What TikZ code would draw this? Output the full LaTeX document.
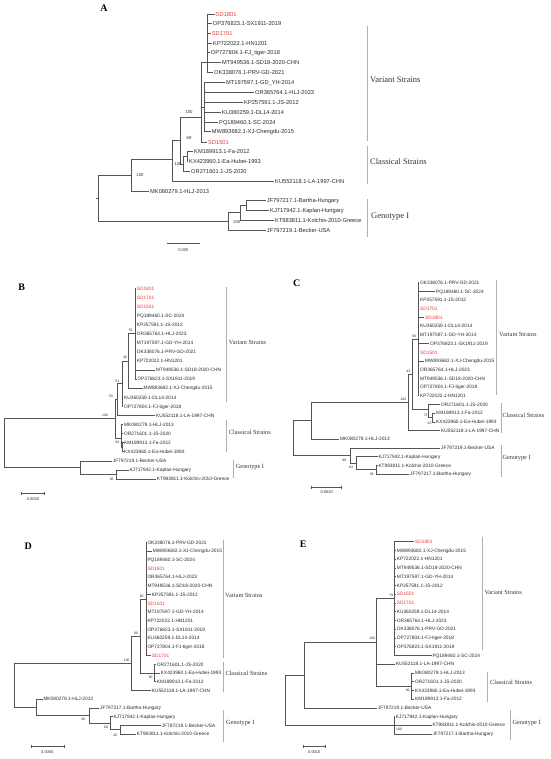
\documentclass[tikz,border=0pt]{standalone}
\usepackage{fontspec}
\setmainfont{Liberation Serif}
\setsansfont{Liberation Sans}
\definecolor{treegray}{HTML}{555555}
\definecolor{leafgray}{HTML}{2B2B2B}
\definecolor{sdred}{HTML}{EE3B3B}
\definecolor{bargray}{HTML}{B0B0B0}
\definecolor{labgray}{HTML}{333333}
\tikzset{
 treeA/.style={draw=treegray, line width=0.55pt},
 tree/.style={draw=treegray, line width=0.45pt},
 lfA/.style={anchor=west, inner ysep=0pt, inner xsep=0.8pt, xshift=-0.8pt, text height=4.1pt, text depth=0pt, font=\sffamily\fontsize{5.7}{6}\selectfont, text=leafgray},
 lfAr/.style={lfA, text=sdred},
 lf/.style={anchor=west, inner ysep=0pt, inner xsep=0.8pt, xshift=-0.8pt, text height=3.45pt, text depth=0pt, font=\sffamily\fontsize{4.8}{5}\selectfont, text=leafgray},
 lfr/.style={lf, text=sdred},
 bsA/.style={inner sep=0pt, font=\sffamily\fontsize{4.2}{4.5}\selectfont, text=leafgray},
 bs/.style={inner sep=0pt, font=\sffamily\fontsize{3.4}{3.6}\selectfont, text=leafgray},
 cbar/.style={draw=bargray, line width=0.7pt},
 clabA/.style={anchor=west, inner sep=0pt, font=\fontsize{8.5}{9}\selectfont, text=labgray},
 clab/.style={anchor=west, inner sep=0pt, font=\fontsize{6.3}{7}\selectfont, text=labgray},
 plab/.style={inner sep=0pt, font=\bfseries\fontsize{10}{11}\selectfont},
 sclab/.style={inner sep=0pt, font=\sffamily\fontsize{4}{4.5}\selectfont, text=leafgray},
 sbar/.style={draw=treegray, line width=0.45pt},
}
\begin{document}
\begin{tikzpicture}[x=1pt,y=-1pt]
\fill[white] (0,0) rectangle (550,759);
\useasboundingbox (0,0) rectangle (550,759);

%% ================= PANEL A =================
\node[plab] (pA) at (104,8.5) {A};
\node[lfAr] (a1) at (215.7,14) {SD1801};
\node[lfA] (a2) at (212.7,23.3) {OP376823.1-SX1911-2019};
\node[lfAr] (a3) at (211.7,33.3) {SD1701};
\node[lfA] (a4) at (213,43) {KP722022.1-HN1201};
\node[lfA] (a5) at (210.7,52.7) {OP727804.1-FJ\_tiger-2018};
\node[lfA] (a6) at (222,62.7) {MT949536.1-SD18-2020-CHN};
\node[lfA] (a7) at (214,72.3) {OK338076.1-PRV-GD-2021};
\node[lfA] (a8) at (226,82.3) {MT197597.1-GD\_YH-2014};
\node[lfA] (a9) at (255,92.3) {OR365764.1-HLJ-2023};
\node[lfA] (a10) at (244,102.3) {KP257591.1-JS-2012};
\node[lfA] (a11) at (222,112) {KU360259.1-DL14-2014};
\node[lfA] (a12) at (219,122) {PQ189460.1-SC-2024};
\node[lfA] (a13) at (211.7,131.7) {MW893682.1-XJ-Chengdu-2015};
\node[lfAr] (a14) at (208,142.3) {SD1501};
\node[lfA] (a15) at (194,151.7) {KM189913.1-Fa-2012};
\node[lfA] (a16) at (189,161.7) {KX423960.1-Ea-Hubei-1993};
\node[lfA] (a17) at (191,171.7) {OR271601.1-JS-2020};
\node[lfA] (a18) at (275,181) {KU552118.1-LA-1997-CHN};
\node[lfA] (a19) at (150,191) {MK080279.1-HLJ-2013};
\node[lfA] (a20) at (266.7,200.7) {JF797217.1-Bartha-Hungary};
\node[lfA] (a21) at (270,210.7) {KJ717942.1-Kaplan-Hungary};
\node[lfA] (a22) at (275,220) {KT983811.1-Kolchis-2010-Greece};
\node[lfA] (a23) at (266.7,230) {JF797219.1-Becker-USA};
\coordinate (ar0) at (96,198);
\coordinate (ar) at (98,198);
\coordinate (ag1) at (228,221);
\coordinate (ag2) at (240,212.5);
\coordinate (ag3) at (246,205.7);
\coordinate (au1) at (131.7,175);
\coordinate (au2) at (172.7,159);
\coordinate (au3) at (180,140);
\coordinate (av) at (201.5,117);
\coordinate (av2) at (207,62);
\coordinate (av3) at (204.5,107);
\coordinate (ac1) at (183,164);
\coordinate (ac2) at (187,156.7);
\draw[treeA] (ar0) -- (ar);
\foreach \p/\c in {ar/au1,ar/ag1,ag1/ag2,ag2/ag3,au1/au2,au2/au3,au3/av,au3/ac1,ac1/ac2,av/av2,av/av3}
  \draw[treeA] (\p) |- (\c);
\foreach \p/\c in {ag1/a23,ag2/a22,ag3/a20,ag3/a21,au1/a19,au2/a18,ac1/a17,ac2/a15,ac2/a16,av/a14}
  \draw[treeA] (\p) |- (\c.west);
\foreach \c in {1,...,7} \draw[treeA] (av2) |- (a\c.west);
\foreach \c in {8,...,13} \draw[treeA] (av3) |- (a\c.west);
\node[bsA] (ba1) at (189,112.5) {100};
\node[bsA] (ba2) at (189,138) {69};
\node[bsA] (ba3) at (178,164.5) {100};
\node[bsA] (ba4) at (140,175) {100};
\node[bsA] (ba5) at (236.7,221.7) {100};
\coordinate (as1) at (166.7,243.3);
\coordinate (as2) at (200,243.3);
\draw[sbar] (as1) -- (as2);
\node[sclab] (asl) at (183.3,250) {0.005};
\draw[cbar] (367.7,26) -- (367.7,140.7);
\draw[cbar] (367.7,146) -- (367.7,184);
\draw[cbar] (367.7,199) -- (367.7,236.7);
\node[clabA] (aV) at (370,80) {Variant Strains};
\node[clabA] (aC) at (370,161.7) {Classical Strains};
\node[clabA] (aG) at (371,216.7) {Genotype I};

%% ================= PANEL B =================
\node[plab] (pB) at (21.7,287.3) {B};
\node[lfr] (b1) at (136.7,288.3) {SD1801};
\node[lfr] (b2) at (136.7,297.4) {SD1701};
\node[lfr] (b3) at (136.7,306.5) {SD1501};
\node[lf] (b4) at (136.7,315.5) {PQ189460.1-SC-2024};
\node[lf] (b5) at (136.7,324.6) {KP257591.1-JS-2012};
\node[lf] (b6) at (136.7,333.7) {OR365764.1-HLJ-2023};
\node[lf] (b7) at (136.7,342.8) {MT197597.1-GD-YH-2014};
\node[lf] (b8) at (136.7,351.9) {OK338076.1-PRV-GD-2021};
\node[lf] (b9) at (136.7,360.9) {KP722022.1-HN1201};
\node[lf] (b10) at (156,370) {MT949536.1-SD18-2020-CHN};
\node[lf] (b11) at (137.3,379.1) {OP376823.1-SX1911-2019};
\node[lf] (b12) at (143.3,388.2) {MW893682.1-XJ-Chengdu-2015};
\node[lf] (b13) at (124,397.3) {KU360259.1-DL14-2014};
\node[lf] (b14) at (124,406.3) {OP727804.1-FJ-tiger-2018};
\node[lf] (b15) at (156,415.4) {KU552118.1-LA-1997-CHN};
\node[lf] (b16) at (124,424.5) {MK080279.1-HLJ-2013};
\node[lf] (b17) at (124,433.6) {OR271601.1-JS-2020};
\node[lf] (b18) at (124,442.7) {KM189913.1-Fa-2012};
\node[lf] (b19) at (124,451.7) {KX423960.1-Ea-Hubei-1993};
\node[lf] (b20) at (112.7,460.8) {JF797219.1-Becker-USA};
\node[lf] (b21) at (129.3,469.9) {KJ717942.1-Kaplan-Hungary};
\node[lf] (b22) at (156.7,479) {KT983811.1-Kolchis-2010-Greece};
\coordinate (Broot) at (4,443);
\coordinate (Bup) at (115,418.5);
\coordinate (Bv) at (117,399);
\coordinate (Bv2) at (122,383);
\coordinate (Bv3) at (128,361);
\coordinate (Bv4) at (135,333.7);
\coordinate (Bc) at (121.5,438);
\coordinate (Bc2) at (122.5,447.2);
\coordinate (BgI) at (80,467.6);
\coordinate (Bg2) at (116.7,474.5);
\foreach \p/\c in {Broot/Bup,Broot/BgI,Bup/Bv,Bup/Bc,Bv/Bv2,Bv2/Bv3,Bv3/Bv4,Bc/Bc2,BgI/Bg2}
  \draw[tree] (\p) |- (\c);
\foreach \c in {1,...,11} \draw[tree] (Bv4) |- (b\c.west);
\foreach \p/\c in {Bv3/b12,Bv2/b13,Bv2/b14,Bv/b15,Bc/b16,Bc/b17,Bc2/b18,Bc2/b19,BgI/b20,Bg2/b21,Bg2/b22}
  \draw[tree] (\p) |- (\c.west);
\node[bs] (bb1) at (130.7,330.7) {55};
\node[bs] (bb2) at (125,357.7) {46};
\node[bs] (bb3) at (117.3,381) {53};
\node[bs] (bb4) at (111,396) {55};
\node[bs] (bb5) at (105,415) {100};
\node[bs] (bb6) at (117.3,442.3) {93};
\node[bs] (bb7) at (111.7,479) {96};
\coordinate (bs1) at (21.7,493);
\coordinate (bs2) at (44.3,493);
\draw[sbar] (bs1) -- (bs2);
\draw[sbar] ([yshift=1.5pt]bs1) -- ([yshift=-1.5pt]bs1);
\draw[sbar] ([yshift=1.5pt]bs2) -- ([yshift=-1.5pt]bs2);
\node[sclab] (bsl) at (33,499) {0.0020};
\draw[cbar] (226.7,287.3) -- (226.7,401.7);
\draw[cbar] (226.7,420) -- (226.7,451.7);
\draw[cbar] (233.3,460) -- (233.3,478.3);
\node[clab] (bV) at (228.7,342.7) {Variant Strains};
\node[clab] (bC) at (228.7,432.7) {Classical Strains};
\node[clab] (bG) at (235.7,466.7) {Genotype I};

%% ================= PANEL C =================
\node[plab] (pC) at (296.7,283.3) {C};
\node[lf] (c1) at (420,282.7) {OK338076.1-PRV-GD-2021};
\node[lf] (c2) at (436,291.4) {PQ189460.1-SC-2024};
\node[lf] (c3) at (420,300.1) {KP257591.1-JS-2012};
\node[lfr] (c4) at (420,308.8) {SD1701};
\node[lfr] (c5) at (425,317.5) {SD1801};
\node[lf] (c6) at (420,326.2) {KU360259.1-DL14-2014};
\node[lf] (c7) at (420,334.9) {MT197597.1-GD-YH-2014};
\node[lf] (c8) at (430,343.6) {OP376823.1-SX1911-2019};
\node[lfr] (c9) at (420,352.3) {SD1501};
\node[lf] (c10) at (425,361) {MW893682.1-XJ-Chengdu-2015};
\node[lf] (c11) at (420,369.7) {OR365764.1-HLJ-2023};
\node[lf] (c12) at (420,378.3) {MT949536.1-SD18-2020-CHN};
\node[lf] (c13) at (420,387) {OP727804.1-FJ-tiger-2018};
\node[lf] (c14) at (420,395.7) {KP722022.1-HN1201};
\node[lf] (c15) at (441,404.4) {OR271601.1-JS-2020};
\node[lf] (c16) at (436,413.1) {KM189913.1-Fa-2012};
\node[lf] (c17) at (436,421.8) {KX423960.1-Ea-Hubei-1993};
\node[lf] (c18) at (441,430.5) {KU552118.1-LA-1997-CHN};
\node[lf] (c19) at (340,439.2) {MK080279.1-HLJ-2013};
\node[lf] (c20) at (441,447.9) {JF797219.1-Becker-USA};
\node[lf] (c21) at (378.3,456.6) {KJ717942.1-Kaplan-Hungary};
\node[lf] (c22) at (378.3,465.3) {KT983811.1-Kolchis-2010-Greece};
\node[lf] (c23) at (410,474) {JF797217.1-Bartha-Hungary};
\coordinate (Croot) at (293.3,438.1);
\coordinate (Cu) at (311.7,420.6);
\coordinate (C100) at (408.3,402.5);
\coordinate (C43) at (412.5,374.3);
\coordinate (C90) at (418,339.2);
\coordinate (Ccl) at (428,409.5);
\coordinate (Ccl2) at (432,417.5);
\coordinate (CgI) at (350,455.6);
\coordinate (Cg2) at (356.7,463.2);
\coordinate (Cg3) at (376,469.7);
\foreach \p/\c in {Croot/Cu,Croot/CgI,Cu/C100,C100/C43,C43/C90,C43/Ccl,Ccl/Ccl2,CgI/Cg2,Cg2/Cg3}
  \draw[tree] (\p) |- (\c);
\foreach \c in {1,...,14} \draw[tree] (C90) |- (c\c.west);
\foreach \p/\c in {Ccl/c15,Ccl2/c16,Ccl2/c17,C100/c18,Cu/c19,CgI/c20,Cg2/c21,Cg3/c22,Cg3/c23}
  \draw[tree] (\p) |- (\c.west);
\node[bs] (cb1) at (414.3,336) {90};
\node[bs] (cb2) at (408.3,371.7) {43};
\node[bs] (cb3) at (403.3,399.3) {100};
\node[bs] (cb4) at (425.7,415) {73};
\node[bs] (cb5) at (429.5,423.5) {63};
\node[bs] (cb6) at (344.3,460) {98};
\node[bs] (cb7) at (351,467.7) {63};
\node[bs] (cb8) at (371.7,474) {93};
\coordinate (cs1) at (311.7,487.3);
\coordinate (cs2) at (341.7,487.3);
\draw[sbar] (cs1) -- (cs2);
\draw[sbar] ([yshift=1.5pt]cs1) -- ([yshift=-1.5pt]cs1);
\draw[sbar] ([yshift=1.5pt]cs2) -- ([yshift=-1.5pt]cs2);
\node[sclab] (csl) at (326.7,492.5) {0.0020};
\draw[cbar] (496.7,280) -- (496.7,395);
\draw[cbar] (501.7,403.3) -- (501.7,433.3);
\draw[cbar] (501.7,445) -- (501.7,476.7);
\node[clab] (cV) at (499,334) {Variant Strains};
\node[clab] (cC) at (502.3,415) {Classical Strains};
\node[clab] (cG) at (502.3,458.3) {Genotype I};

%% ================= PANEL D =================
\node[plab] (pD) at (28.3,546) {D};
\node[lf] (d1) at (147.3,542.3) {OK338076.1-PRV-GD-2021};
\node[lf] (d2) at (152.7,551) {MW893682.1-XJ-Chengdu-2015};
\node[lf] (d3) at (147.3,559.7) {PQ189460.1-SC-2024};
\node[lfr] (d4) at (147.3,568.4) {SD1801};
\node[lf] (d5) at (147.3,577.2) {OR365764.1-HLJ-2023};
\node[lf] (d6) at (147.3,585.9) {MT949536.1-SD18-2020-CHN};
\node[lf] (d7) at (151.7,594.6) {KP257591.1-JS-2012};
\node[lfr] (d8) at (147.3,603.3) {SD1501};
\node[lf] (d9) at (147.3,612) {MT197597.1-GD-YH-2014};
\node[lf] (d10) at (147.3,620.7) {KP722022.1-HN1201};
\node[lf] (d11) at (147.3,629.4) {OP376823.1-SX1911-2019};
\node[lf] (d12) at (147.3,638.2) {KU360259.1-DL14-2014};
\node[lf] (d13) at (147.3,646.9) {OP727804.1-FJ-tiger-2018};
\node[lfr] (d14) at (151.7,655.6) {SD1701};
\node[lf] (d15) at (156.7,664.3) {OR271601.1-JS-2020};
\node[lf] (d16) at (160.7,673) {KX423960.1-Ea-Hubei-1993};
\node[lf] (d17) at (156.7,681.7) {KM189913.1-Fa-2012};
\node[lf] (d18) at (151.7,690.4) {KU552118.1-LA-1997-CHN};
\node[lf] (d19) at (43.3,699.1) {MK080279.1-HLJ-2013};
\node[lf] (d20) at (100,707.9) {JF797217.1-Bartha-Hungary};
\node[lf] (d21) at (113.3,716.6) {KJ717942.1-Kaplan-Hungary};
\node[lf] (d22) at (161.7,725.3) {JF797219.1-Becker-USA};
\node[lf] (d23) at (136.7,734) {KT983811.1-Kolchis-2010-Greece};
\coordinate (Droot) at (14,685.3);
\coordinate (Dup) at (131.7,663.2);
\coordinate (D90) at (140.5,636);
\coordinate (Dv) at (146,598.9);
\coordinate (Dcl) at (154,673);
\coordinate (Dlo) at (36,707.3);
\coordinate (DgI) at (89.3,715.5);
\coordinate (Dg2) at (110,723.1);
\coordinate (Dg3) at (120,729.7);
\foreach \p/\c in {Droot/Dup,Droot/Dlo,Dup/D90,D90/Dv,D90/Dcl,Dlo/DgI,DgI/Dg2,Dg2/Dg3}
  \draw[tree] (\p) |- (\c);
\foreach \c in {1,...,14} \draw[tree] (Dv) |- (d\c.west);
\foreach \p/\c in {Dcl/d15,Dcl/d16,Dcl/d17,Dup/d18,Dlo/d19,DgI/d20,Dg2/d21,Dg3/d22,Dg3/d23}
  \draw[tree] (\p) |- (\c.west);
\node[bs] (db1) at (141.7,596) {60};
\node[bs] (db2) at (136,633) {90};
\node[bs] (db3) at (126.7,660) {100};
\node[bs] (db4) at (150.7,677.3) {90};
\node[bs] (db5) at (83.3,719.3) {96};
\node[bs] (db6) at (106,727.7) {60};
\node[bs] (db7) at (115,735) {40};
\coordinate (ds1) at (31.7,746.7);
\coordinate (ds2) at (64,746.7);
\draw[sbar] (ds1) -- (ds2);
\draw[sbar] ([yshift=1.5pt]ds1) -- ([yshift=-1.5pt]ds1);
\draw[sbar] ([yshift=1.5pt]ds2) -- ([yshift=-1.5pt]ds2);
\node[sclab] (dsl) at (47.3,752) {0.0050};
\draw[cbar] (223.3,540) -- (223.3,658.3);
\draw[cbar] (223.3,661.7) -- (223.3,691.7);
\draw[cbar] (223.3,710) -- (223.3,741.7);
\node[clab] (dV) at (225,595) {Variant Strains};
\node[clab] (dC) at (225.3,673.3) {Classical Strains};
\node[clab] (dG) at (226,722.7) {Genotype I};

%% ================= PANEL E =================
\node[plab] (pE) at (303.3,544.3) {E};
\node[lfr] (e1) at (415,541.7) {SD1801};
\node[lf] (e2) at (396.7,550.4) {MW893682.1-XJ-Chengdu-2015};
\node[lf] (e3) at (396.7,559.2) {KP722022.1-HN1201};
\node[lf] (e4) at (396.7,567.9) {MT949536.1-SD18-2020-CHN};
\node[lf] (e5) at (396.7,576.7) {MT197597.1-GD-YH-2014};
\node[lf] (e6) at (396.7,585.4) {KP257591.1-JS-2012};
\node[lfr] (e7) at (396.7,594.1) {SD1501};
\node[lfr] (e8) at (396.7,602.9) {SD1701};
\node[lf] (e9) at (396.7,611.6) {KU360259.1-DL14-2014};
\node[lf] (e10) at (396.7,620.4) {OR365764.1-HLJ-2023};
\node[lf] (e11) at (396.7,629.1) {OK338076.1-PRV-GD-2021};
\node[lf] (e12) at (396.7,637.8) {OP727804.1-FJ-tiger-2018};
\node[lf] (e13) at (396.7,646.6) {OP376823.1-SX1911-2019};
\node[lf] (e14) at (432.3,655.3) {PQ189460.1-SC-2024};
\node[lf] (e15) at (395.7,664.1) {KU552118.1-LA-1997-CHN};
\node[lf] (e16) at (415,672.8) {MK080279.1-HLJ-2013};
\node[lf] (e17) at (415,681.5) {OR271601.1-JS-2020};
\node[lf] (e18) at (415,690.3) {KX423960.1-Ea-Hubei-1993};
\node[lf] (e19) at (415,699) {KM189913.1-Fa-2012};
\node[lf] (e20) at (377.7,707.8) {JF797219.1-Becker-USA};
\node[lf] (e21) at (395.7,716.5) {KJ717942.1-Kaplan-Hungary};
\node[lf] (e22) at (432.3,725.2) {KT983811.1-Kolchis-2010-Greece};
\node[lf] (e23) at (432.3,734) {JF797217.1-Bartha-Hungary};
\coordinate (Eroot) at (285.7,700.1);
\coordinate (E1) at (304.3,675);
\coordinate (E100) at (376,642.2);
\coordinate (Ev) at (394.3,598.5);
\coordinate (Ecl) at (411.7,685.9);
\coordinate (EgI) at (394.3,725.2);
\foreach \p/\c in {Eroot/E1,Eroot/EgI,E1/E100,E100/Ev,E100/Ecl}
  \draw[tree] (\p) |- (\c);
\foreach \c in {1,...,14} \draw[tree] (Ev) |- (e\c.west);
\foreach \c in {16,...,19} \draw[tree] (Ecl) |- (e\c.west);
\foreach \c in {21,...,23} \draw[tree] (EgI) |- (e\c.west);
\foreach \p/\c in {E100/e15,E1/e20}
  \draw[tree] (\p) |- (\c.west);
\node[bs] (eb1) at (391,595.7) {70};
\node[bs] (eb2) at (372.3,638.3) {100};
\node[bs] (eb3) at (407.7,690.7) {96};
\node[bs] (eb4) at (399,729.3) {100};
\coordinate (es1) at (303.3,746);
\coordinate (es2) at (325,746);
\draw[sbar] (es1) -- (es2);
\draw[sbar] ([yshift=1.5pt]es1) -- ([yshift=-1.5pt]es1);
\draw[sbar] ([yshift=1.5pt]es2) -- ([yshift=-1.5pt]es2);
\node[sclab] (esl) at (314.3,752) {0.0010};
\draw[cbar] (482.3,536.7) -- (482.3,650);
\draw[cbar] (487.3,671.7) -- (487.3,701.7);
\draw[cbar] (510.7,710) -- (510.7,740);
\node[clab] (eV) at (484.3,592.7) {Variant Strains};
\node[clab] (eC) at (490,682.3) {Classical Strains};
\node[clab] (eG) at (512.3,722.7) {Genotype I};
\end{tikzpicture}
\end{document}
